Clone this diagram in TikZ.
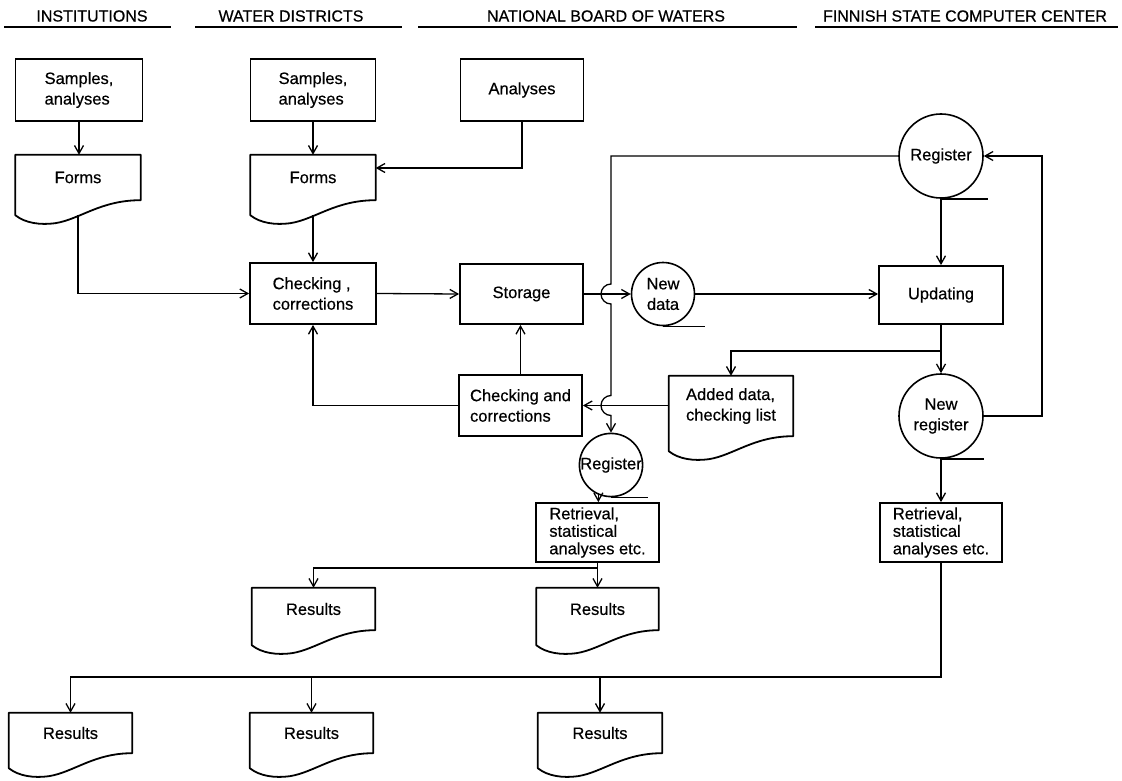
\documentclass[tikz,border=0pt]{standalone}
\usepackage{fontspec}
\setmainfont{Liberation Sans}[BoldFont=Liberation Sans, BoldFeatures={FakeBold=0.5}]
\usetikzlibrary{arrows.meta,calc}
\newcommand\dfont{\fontsize{16.5}{20.5}\selectfont\bfseries}
\newcommand\rfont{\fontsize{16.5}{17.5}\selectfont\bfseries}
\newcommand\hfont{\fontsize{16}{19}\selectfont\bfseries}
\newcommand\docshape[1]{%
  \draw[docline] ([yshift=-15pt]#1.south west) -- (#1.north west) -- (#1.north east) -- (#1.south east)
    .. controls ([xshift=85pt]#1.south west) and ([shift={(65pt,-19pt)}]#1.south west) .. ([shift={(40pt,-23pt)}]#1.south west)
    .. controls ([shift={(25pt,-25pt)}]#1.south west) and ([shift={(10pt,-23pt)}]#1.south west) .. ([yshift=-15pt]#1.south west) -- cycle;}
\begin{document}
\begin{tikzpicture}[x=1pt,y=-1pt,
  box/.style={draw, line width=1.8pt, minimum width=123pt, minimum height=61pt, inner sep=2pt, align=left, font=\dfont},
  docn/.style={minimum width=124pt, minimum height=45pt, inner sep=0pt, align=left, font=\dfont},
  store/.style={draw, circle, line width=1.6pt, inner sep=0pt, align=center, font=\dfont},
  docline/.style={line width=1.8pt, line join=round},
  tapeline/.style={line width=1.6pt},
  wire/.style={line width=1.3pt},
  conn/.style={wire, -{Straight Barb[length=8pt,width=9pt,line width=1.3pt]}},
  hdr/.style={font=\hfont, inner sep=0pt},
  rule/.style={line width=1.5pt},
]
\useasboundingbox (0,0) rectangle (1122,781);

% headers
\node[hdr] (h1) at (92,16) {INSTITUTIONS};
\node[hdr] (h2) at (291,16) {WATER DISTRICTS};
\node[hdr] (h3) at (606,16) {NATIONAL BOARD OF WATERS};
\node[hdr] (h4) at (965,16) {FINNISH STATE COMPUTER CENTER};
\draw[rule] (4,27) -- (171,27);
\draw[rule] (195,27) -- (402,27);
\draw[rule] (418,27) -- (797,27);
\draw[rule] (815,27) -- (1118,27);

% nodes
\node[box, minimum width=127pt, minimum height=62pt] (s1) at (79,90) {Samples,\\analyses};
\node[box, minimum width=125pt, minimum height=62pt] (s2) at (313,90) {Samples,\\analyses};
\node[box, minimum height=62pt] (an) at (522,90) {Analyses};
\node[docn, minimum width=125pt] (f1) at (78,177.5) {Forms};
\node[docn, minimum width=125pt] (f2) at (313,177.5) {Forms};
\node[box, minimum width=126pt] (chk) at (313,293.5) {Checking ,\\corrections};
\node[box, minimum height=60pt] (sto) at (521.5,294) {Storage};
\node[store, minimum size=63pt] (nd) at (663,294) {New\\data};
\node[store, minimum size=84pt] (reg) at (941,156) {Register};
\node[box, minimum width=124pt, minimum height=58pt] (upd) at (941,295) {Updating};
\node[store, minimum size=84pt] (nreg) at (941,416) {New\\register};
\node[docn, minimum height=60pt] (add) at (731,406) {Added data,\\checking list};
\node[box] (cc) at (520.5,405.5) {Checking and\\corrections};
\node[store, minimum size=63pt] (sreg) at (611,465) {Register};
\node[box, minimum height=59pt, font=\rfont] (ret1) at (597.5,532.5) {Retrieval,\\statistical\\analyses etc.};
\node[box, minimum width=122pt, minimum height=59pt, font=\rfont] (ret2) at (941,532.5) {Retrieval,\\statistical\\analyses etc.};
\node[docn, minimum width=123pt, minimum height=42pt] (r1) at (313.5,609) {Results};
\node[docn, minimum width=122pt, minimum height=42pt] (r2) at (597.5,609) {Results};
\node[docn, minimum width=123pt, minimum height=40pt] (r3) at (70.5,733) {Results};
\node[docn, minimum width=123pt, minimum height=40pt] (r4) at (311.5,733) {Results};
\node[docn, minimum width=124pt, minimum height=40pt] (r5) at (600,733) {Results};

% document outlines
\docshape{f1}
\docshape{f2}
\docshape{add}
\docshape{r1}
\docshape{r2}
\docshape{r3}
\docshape{r4}
\docshape{r5}

% tape lines of the storage symbols
\draw[tapeline] (reg.south) -- ++(47,0);
\draw[tapeline] (nd.south) -- ++(42,0);
\draw[tapeline] (nreg.south) -- ++(43,0);
\draw[tapeline] (sreg.south) -- ++(37,0);

% helper coordinates
\coordinate (a1) at (0,168);
\coordinate (b1) at (941,351);
\coordinate (rx) at (1042,0);
\coordinate (b2) at (0,568);
\coordinate (b3) at (0,677);

% connectors
\draw[conn] (s1.south) -- (s1.south |- f1.north);
\draw[conn] (s2.south) -- (f2.north);
\draw[conn] (an.south) |- (f2.east |- a1);
\draw[conn] ([yshift=-15pt]f1.south) |- (chk.west);
\draw[conn] ([yshift=-15pt]f2.south) -- (chk.north);
\draw[conn] (chk.east) -- (sto.west);
\draw[conn] (sto.east) -- (nd.west);
\draw[conn] (reg.west) -- (reg.west -| sreg.north)
  -- ($(sto.east -| sreg.north)+(0,10pt)$) arc[start angle=90,end angle=270,radius=10pt]
  -- ($(cc.east -| sreg.north)+(0,10pt)$) arc[start angle=90,end angle=270,radius=10pt]
  -- (sreg.north);
\draw[conn] (nd.east) -- (upd.west |- nd.east);
\draw[conn] (reg.south) -- (upd.north);
\draw[conn] (upd.south) -- (nreg.north);
\draw[conn] (b1) -| (add.north);
\draw[conn] (nreg.east) -- (nreg.east -| rx) |- (reg.east);
\draw[conn] (add.west |- cc.east) -- (cc.east);
\draw[conn] (cc.north) -- (cc.north |- sto.south);
\draw[conn] (cc.west) -| (chk.south);
\draw[conn] (nreg.south) -- (ret2.north);
\draw[conn] (sreg.247) -- (sreg.247 |- ret1.north);
\draw[conn] (ret1.south) -- (r2.north);
\draw[conn] (ret1.south |- b2) -| (r1.north);
\draw[conn] (ret2.south) |- (r3.north |- b3) -- (r3.north);
\draw[conn] (r4.north |- b3) -- (r4.north);
\draw[conn] (r5.north |- b3) -- (r5.north);
\end{tikzpicture}
\end{document}
